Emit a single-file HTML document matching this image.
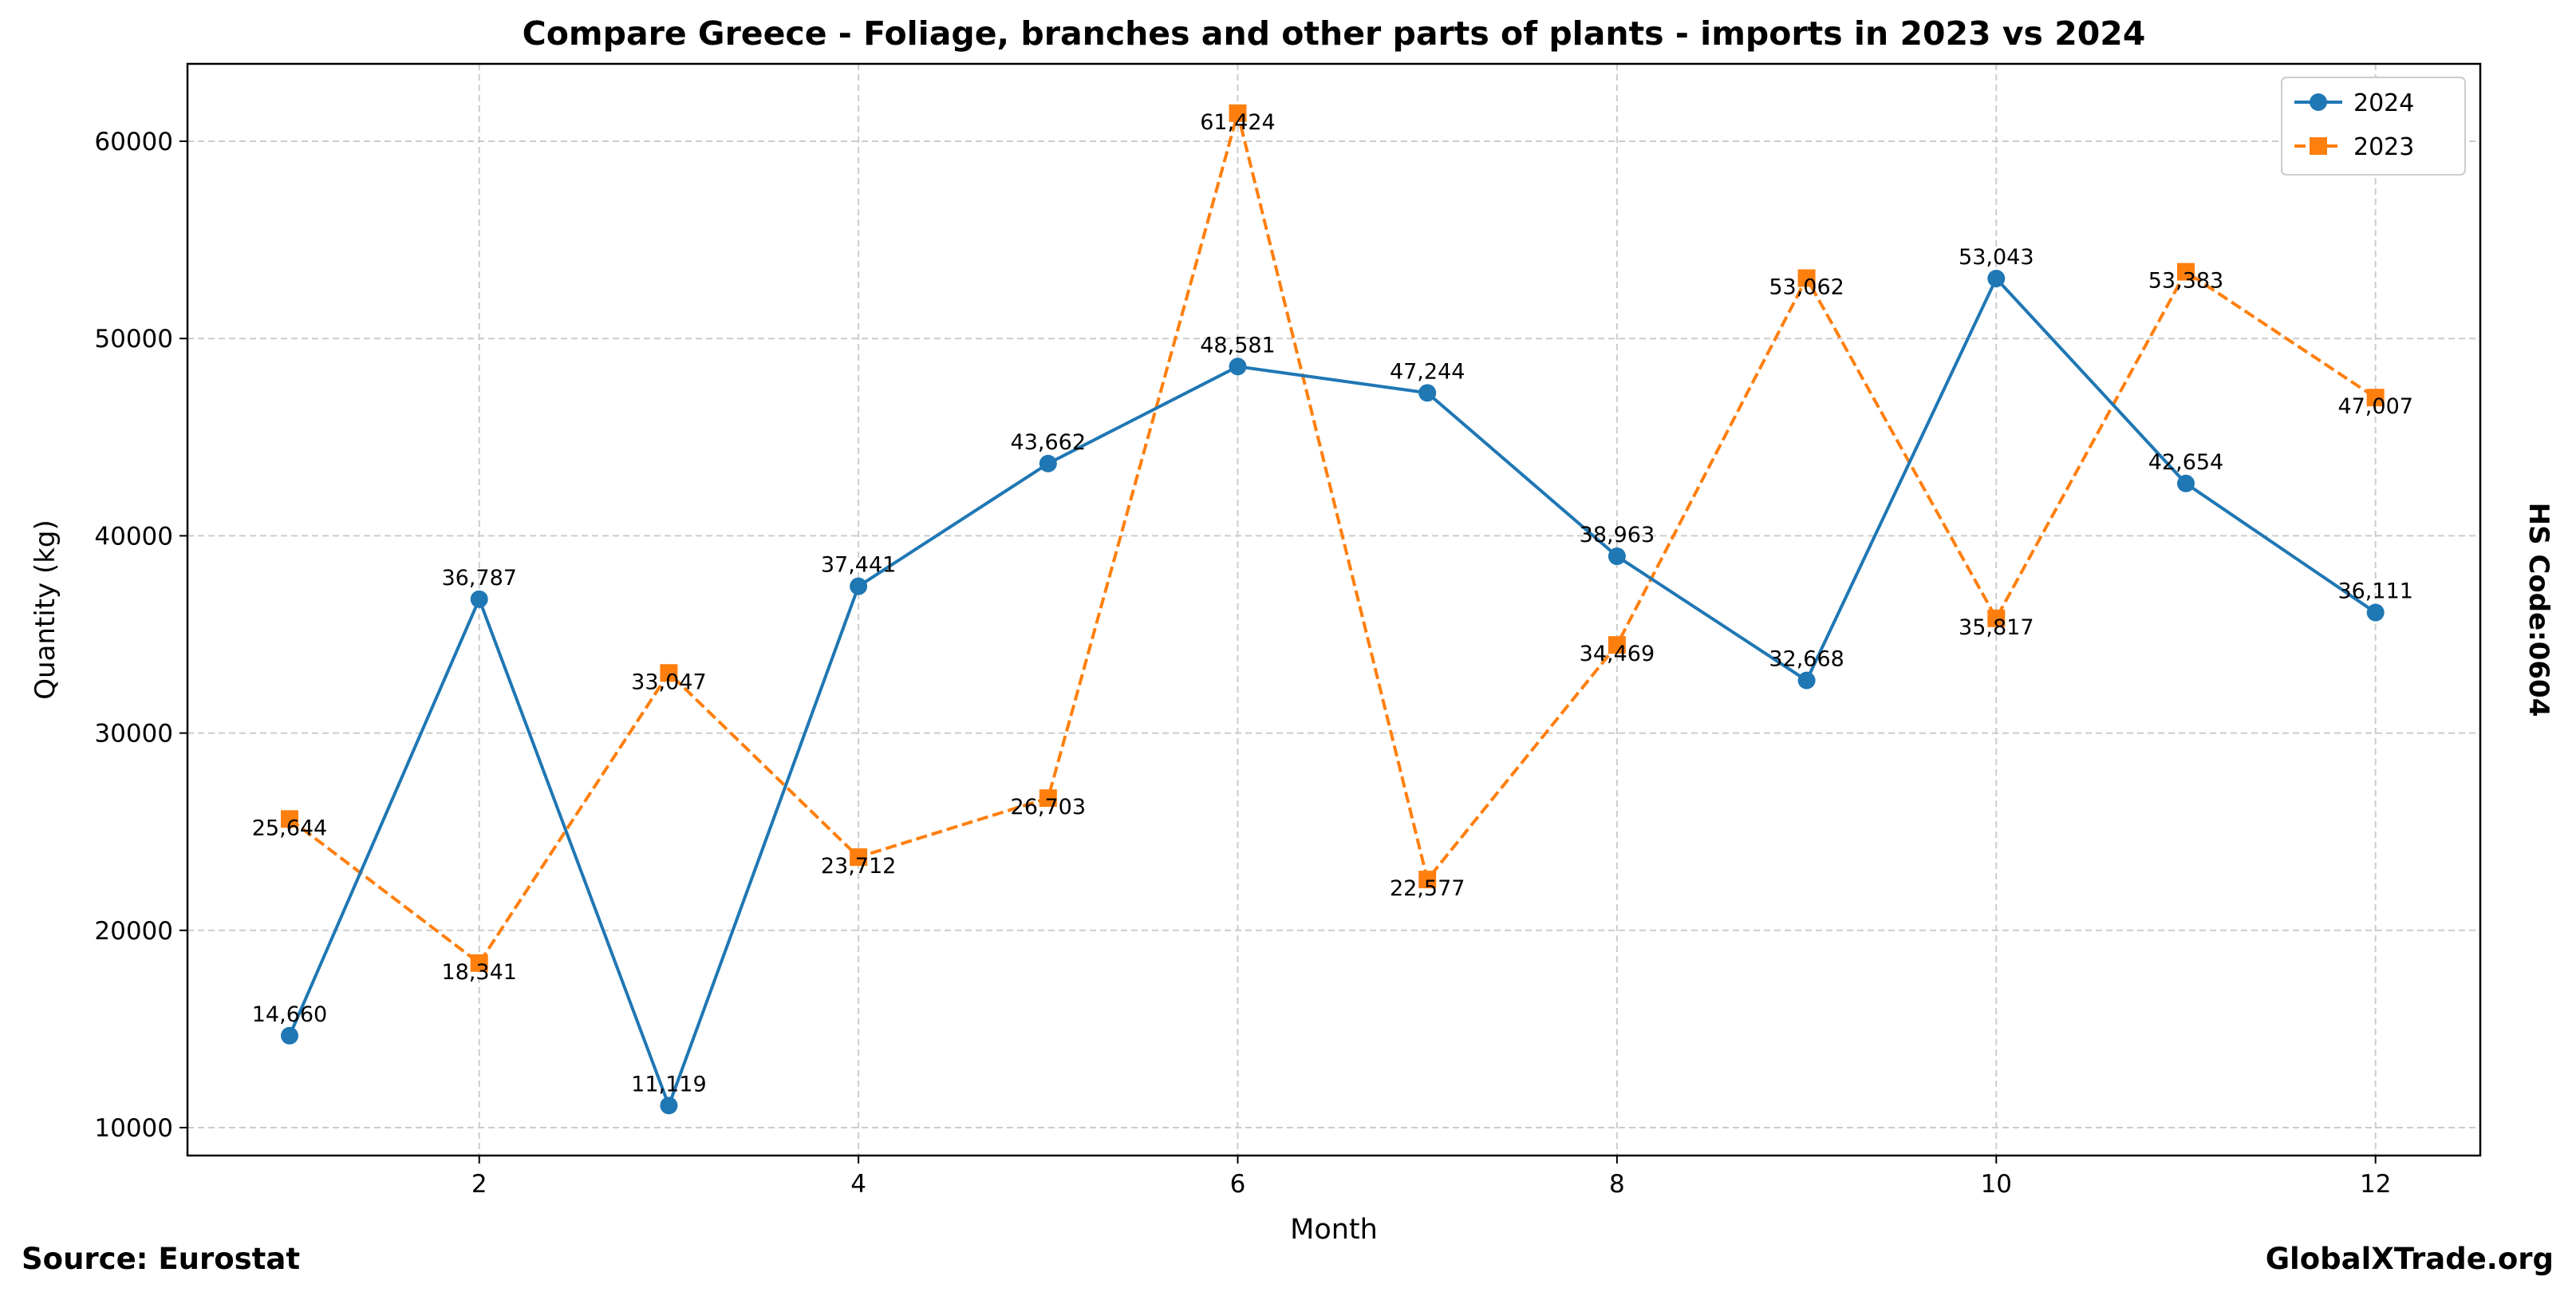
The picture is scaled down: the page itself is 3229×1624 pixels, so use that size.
<!DOCTYPE html>
<html><head><meta charset="utf-8"><style>body{margin:0;background:#fff}svg{display:block}text{font-family:"DejaVu Sans","Liberation Sans",sans-serif}</style></head>
<body>
<svg id="s" width="3229" height="1624" xmlns="http://www.w3.org/2000/svg"></svg>
<script>
const s=document.getElementById('s');
const L=235,R=3109,T=80,B=1448;
const X=m=>363+(m-1)*237.7, Y=v=>177+(60000-v)/10000*247.2;
let h='';
for(let m=2;m<=12;m+=2){h+=`<line x1="${X(m)}" y1="${T}" x2="${X(m)}" y2="${B}" stroke="#ccc" stroke-width="2" stroke-dasharray="8,5"/>`;
h+=`<line x1="${X(m)}" y1="${B}" x2="${X(m)}" y2="${B+10}" stroke="#000" stroke-width="2"/><text x="${X(m)}" y="${B+46}" font-size="31" text-anchor="middle">${m}</text>`;}
for(let v=10000;v<=60000;v+=10000){h+=`<line x1="${L}" y1="${Y(v)}" x2="${R}" y2="${Y(v)}" stroke="#ccc" stroke-width="2" stroke-dasharray="8,5"/>`;
h+=`<line x1="${L-10}" y1="${Y(v)}" x2="${L}" y2="${Y(v)}" stroke="#000" stroke-width="2"/><text x="${L-18}" y="${Y(v)+11}" font-size="31" text-anchor="end">${v}</text>`;}
const a=[14660,36787,11119,37441,43662,48581,47244,38963,32668,53043,42654,36111];
const b=[25644,18341,33047,23712,26703,61424,22577,34469,53062,35817,53383,47007];
const f=n=>n.toLocaleString('en-US');
h+=`<polyline fill="none" stroke="#ff7f0e" stroke-width="4" stroke-dasharray="14,6" points="${b.map((v,i)=>X(i+1)+','+Y(v)).join(' ')}"/>`;
h+=`<polyline fill="none" stroke="#1f77b4" stroke-width="4" points="${a.map((v,i)=>X(i+1)+','+Y(v)).join(' ')}"/>`;
a.forEach((v,i)=>{h+=`<circle cx="${X(i+1)}" cy="${Y(v)}" r="11" fill="#1f77b4"/>`;});
b.forEach((v,i)=>{h+=`<rect x="${X(i+1)-11}" y="${Y(v)-11}" width="22" height="22" fill="#ff7f0e"/>`;});
a.forEach((v,i)=>{h+=`<text x="${X(i+1)}" y="${Y(v)-18}" font-size="27" text-anchor="middle">${f(v)}</text>`;});
b.forEach((v,i)=>{h+=`<text x="${X(i+1)}" y="${Y(v)+20}" font-size="27" text-anchor="middle">${f(v)}</text>`;});
h+=`<rect x="${L}" y="${T}" width="${R-L}" height="${B-T}" fill="none" stroke="#000" stroke-width="2.5"/>`;
h+=`<rect x="2860" y="97" width="230" height="122" rx="6" fill="#fff" stroke="#ccc" stroke-width="2"/>`;
h+=`<line x1="2876" y1="128" x2="2936" y2="128" stroke="#1f77b4" stroke-width="4"/><circle cx="2906" cy="128" r="11" fill="#1f77b4"/><text x="2950" y="139" font-size="30">2024</text>`;
h+=`<line x1="2876" y1="183" x2="2936" y2="183" stroke="#ff7f0e" stroke-width="4" stroke-dasharray="14,6"/><rect x="2895" y="172" width="22" height="22" fill="#ff7f0e"/><text x="2950" y="194" font-size="30">2023</text>`;
h+=`<text x="1672" y="56" font-size="41" font-weight="bold" text-anchor="middle">Compare Greece - Foliage, branches and other parts of plants - imports in 2023 vs 2024</text>`;
h+=`<text x="1672" y="1552" font-size="35" text-anchor="middle">Month</text>`;
h+=`<text transform="translate(68,764) rotate(-90)" font-size="34" text-anchor="middle">Quantity (kg)</text>`;
h+=`<text transform="translate(3171,764) rotate(90)" font-size="34" font-weight="bold" text-anchor="middle">HS Code:0604</text>`;
h+=`<text x="27" y="1590" font-size="37" font-weight="bold">Source: Eurostat</text>`;
h+=`<text x="3201" y="1590" font-size="37" font-weight="bold" text-anchor="end">GlobalXTrade.org</text>`;
s.innerHTML=h;
</script>
</body></html>
